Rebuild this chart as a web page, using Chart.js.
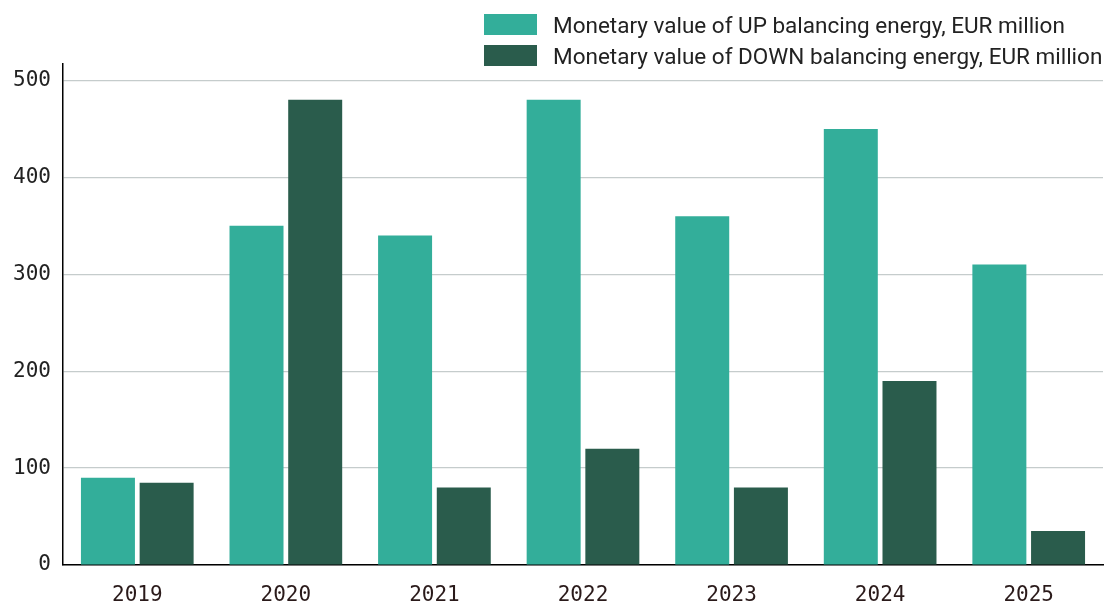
<!DOCTYPE html>
<html>
<head>
<meta charset="utf-8">
<script src="https://cdn.jsdelivr.net/npm/chart.js@4.4.1/dist/chart.umd.min.js"></script>
<style>
    html, body { margin: 0; padding: 0; background: #fff; }
    #wrap { position: relative; width: 1106px; height: 604px; }
    #legend { position: absolute; left: 484px; top: 9px; font-family: Roboto, "Liberation Sans", sans-serif; font-size: 22.5px; color: #222; }
    .item { display: flex; align-items: center; height: 31px; }
    .box { width: 53px; height: 21px; margin-right: 16px; }
</style>
</head>
<body>
<div id="wrap">
    <canvas id="chart" width="1106" height="604"></canvas>
    <div id="legend"></div>
</div>
<script>
const years = ['2019', '2020', '2021', '2022', '2023', '2024', '2025'];
const upValues = [90, 350, 340, 480, 360, 450, 310];
const downValues = [85, 480, 80, 120, 80, 190, 35];
const seriesNames = [
    'Monetary value of UP balancing energy, EUR million',
    'Monetary value of DOWN balancing energy, EUR million'
];
const seriesColors = ['#33ae9a', '#2a5c4c'];
const yTicks = [0, 100, 200, 300, 400, 500];

const tickFont = { family: 'DejaVu Sans Mono', size: 21 };

const chart = new Chart(document.getElementById('chart'), {
    type: 'bar',
    data: {
        labels: years,
        datasets: [{
            label: seriesNames[0],
            data: upValues,
            backgroundColor: seriesColors[0]
        }, {
            label: seriesNames[1],
            data: downValues,
            backgroundColor: seriesColors[1]
        }]
    },
    options: {
        responsive: false,
        animation: false,
        datasets: {
            bar: { categoryPercentage: 0.79, barPercentage: 0.92 }
        },
        layout: { padding: { top: 64, right: 3, left: 0, bottom: 0 } },
        plugins: {
            legend: { display: false },
            tooltip: { enabled: false }
        },
        scales: {
            x: {
                grid: { display: false },
                border: { color: '#000', width: 1.5 },
                ticks: { font: tickFont, color: '#2a1a1a', padding: 10 },
                afterFit: s => { s.height = 39; }
            },
            y: {
                min: 0,
                max: 517,
                afterBuildTicks: s => { s.ticks = yTicks.map(v => ({ value: v })); },
                grid: { color: '#c5cccc', lineWidth: 1.2, drawTicks: false },
                border: { color: '#000', width: 1.5 },
                ticks: { font: tickFont, color: '#222', padding: 12 },
                afterFit: s => { s.width = 63; }
            }
        }
    }
});

// legend stacked in two left-aligned rows
const legend = document.getElementById('legend');
chart.data.datasets.forEach(ds => {
    const item = document.createElement('div');
    item.className = 'item';
    item.innerHTML = `<span class="box" style="background:${ds.backgroundColor}"></span><span>${ds.label}</span>`;
    legend.appendChild(item);
});
</script>
</body>
</html>
